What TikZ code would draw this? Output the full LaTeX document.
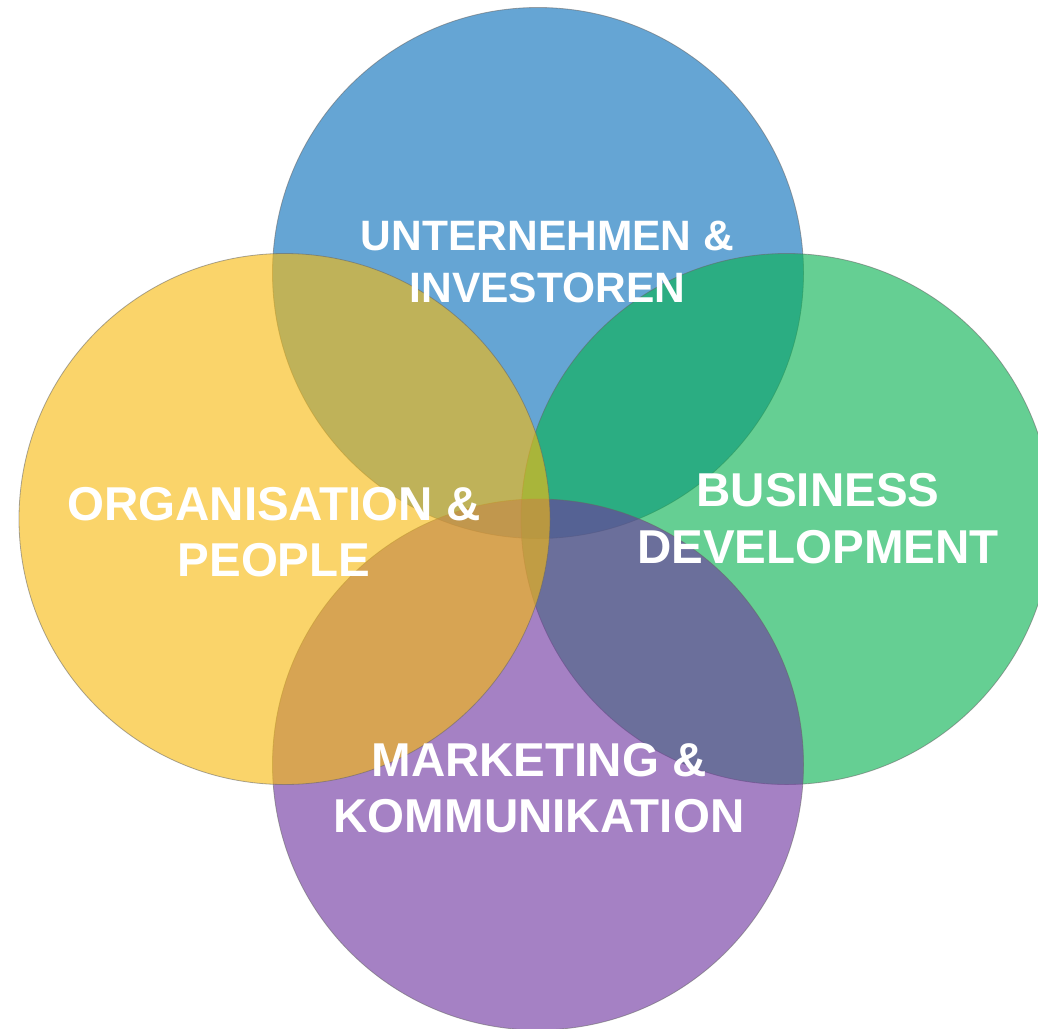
\documentclass[tikz,border=0pt]{standalone}
\usepackage{fontspec}
\setmainfont{Liberation Sans}
\definecolor{cblue}{RGB}{8,111,187}
\definecolor{cyellow}{RGB}{247,186,15}
\definecolor{cgreen}{RGB}{8,178,81}
\definecolor{cpurple}{RGB}{111,53,160}
\tikzset{
  venn/.style={fill opacity=0.62, draw=black!60, draw opacity=0.55, line width=0.8pt},
  biglabel/.style={text=white, align=center, inner sep=0pt, font=\bfseries\fontsize{47.5}{56.5}\selectfont},
  toplabel/.style={text=white, align=center, inner sep=0pt, font=\bfseries\fontsize{42.5}{52}\selectfont}
}
\begin{document}
\begin{tikzpicture}[x=1pt,y=-1pt]
\useasboundingbox (0,0) rectangle (1038,1028);
\clip (0,0) rectangle (1038,1028);
\fill[white] (0,0) rectangle (1038,1028);
\draw[venn, fill=cblue]   (538,273)   circle[radius=265.5];
\draw[venn, fill=cgreen]  (786.5,519) circle[radius=265.5];
\draw[venn, fill=cpurple] (538,764.5) circle[radius=265.5];
\draw[venn, fill=cyellow] (284.5,519) circle[radius=265.5];
\node[toplabel] (top) at (547.5,261.5) {UNTERNEHMEN \&\\INVESTOREN};
\node[biglabel] (left) at (274,532) {ORGANISATION \&\\PEOPLE};
\node[biglabel] (right) at (818,518.5) {BUSINESS\\DEVELOPMENT};
\node[biglabel] (bottom) at (539,788) {MARKETING \&\\KOMMUNIKATION};
\end{tikzpicture}
\end{document}
